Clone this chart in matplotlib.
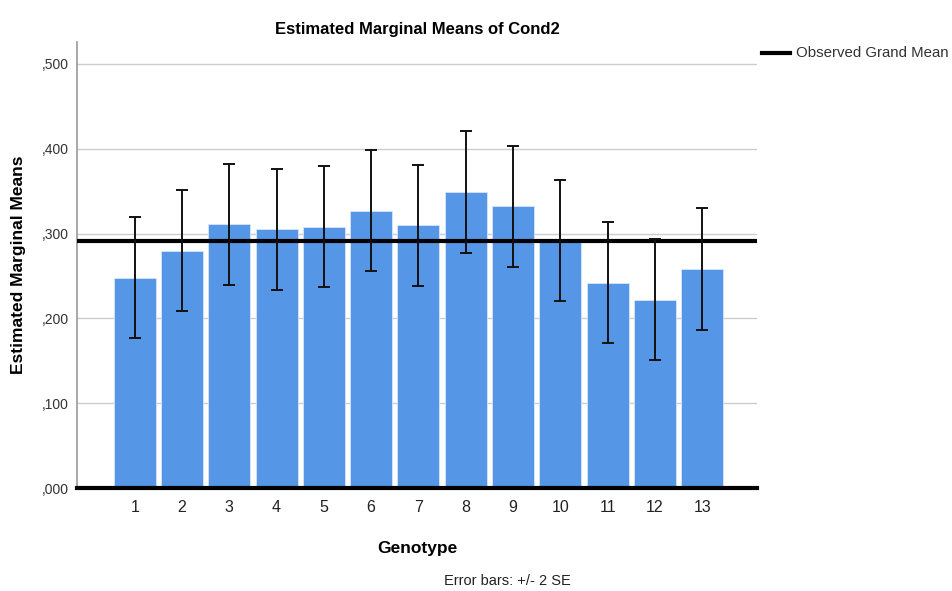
import numpy as np
import matplotlib.pyplot as plt

plt.rcParams['font.family'] = ['Liberation Sans', 'DejaVu Sans']

# Estimated marginal means of Cond2 per genotype, with standard errors
genotypes = ['1', '2', '3', '4', '5', '6', '7', '8', '9', '10', '11', '12', '13']
means = [0.248, 0.280, 0.311, 0.305, 0.308, 0.327, 0.310, 0.349, 0.332, 0.292, 0.242, 0.222, 0.258]
se = [0.0358, 0.0357, 0.0358, 0.0358, 0.0357, 0.0358, 0.0357, 0.0358, 0.0358, 0.0358, 0.0357, 0.0358, 0.0358]
grand_mean = 0.291

fig = plt.figure(figsize=(9.52, 5.91), dpi=100)
ax = fig.add_axes([77 / 952, 1 - 488 / 591, 680 / 952, 446 / 591])

x = np.arange(1, len(genotypes) + 1)
err = 2 * np.array(se)

ax.bar(x, means, width=0.89, color='#5596e6', edgecolor='#d6e6fa', linewidth=0.6, zorder=2)
ax.errorbar(x, means, yerr=err, fmt='none', ecolor='#111111', elinewidth=1.4,
            capsize=4.5, capthick=1.4, zorder=4)

ax.axhline(grand_mean, color='black', linewidth=3, zorder=3)
ax.axhline(0, color='black', linewidth=3, zorder=5, clip_on=False)

ax.set_xlim(-0.22, 14.16)
ax.set_ylim(0, 0.5 + 22 / 848)
ax.set_yticks([0, 0.1, 0.2, 0.3, 0.4, 0.5])
ax.set_yticklabels([',000', ',100', ',200', ',300', ',400', ',500'], fontsize=10, color='#333333')
ax.set_xticks(x)
ax.set_xticklabels(genotypes, fontsize=11.5, color='#222222')
ax.tick_params(axis='both', length=0)
ax.tick_params(axis='x', pad=9)
ax.tick_params(axis='y', pad=6)

ax.grid(axis='y', color='#cccccc', linewidth=1, zorder=0)
ax.set_axisbelow(True)
for side in ['top', 'right', 'bottom']:
    ax.spines[side].set_visible(False)
ax.spines['left'].set_color('#999999')
ax.spines['left'].set_linewidth(1.2)

ax.set_title('Estimated Marginal Means of Cond2', fontsize=12, fontweight='bold', pad=6)
ax.set_ylabel('Estimated Marginal Means', fontsize=12.5, fontweight='bold', labelpad=11)
ax.set_xlabel('Genotype', fontsize=12.5, fontweight='bold', labelpad=18)

# Legend entry for the grand mean line, placed outside the axes
fig.add_artist(plt.Line2D([762 / 952, 790 / 952], [1 - 53 / 591, 1 - 53 / 591],
                          color='black', linewidth=3))
fig.text(796 / 952, 1 - 53 / 591, 'Observed Grand Mean', fontsize=10.8,
         color='#333333', va='center', ha='left')

fig.text(507 / 952, 1 - 581 / 591, 'Error bars: +/- 2 SE', fontsize=10.5,
         color='#222222', va='center', ha='center')

fig.savefig('out.png', dpi=100)
